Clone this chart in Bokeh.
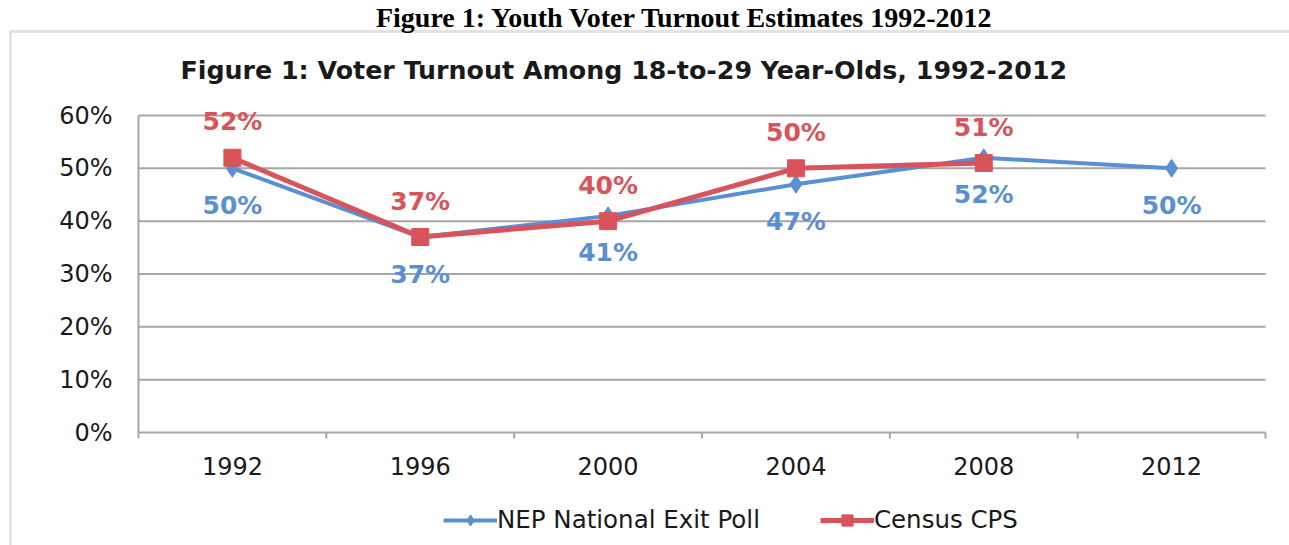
import math
from bokeh.plotting import figure
from bokeh.models import (ColumnDataSource, Label, Legend, LegendItem, PolyAnnotation, Range1d)
from bokeh.core.properties import value
from bokeh.embed import file_html
from bokeh.resources import INLINE

# ---- data ----
years = ["1992", "1996", "2000", "2004", "2008", "2012"]
nep = [50, 37, 41, 47, 52, 50]
cps_years = ["1992", "1996", "2000", "2004", "2008"]
cps = [52, 37, 40, 50, 51]
y_ticks = [0, 10, 20, 30, 40, 50, 60]
y_tick_labels = ["0%", "10%", "20%", "30%", "40%", "50%", "60%"]
heading = "Figure 1:  Youth Voter Turnout Estimates 1992-2012"
title = "Figure 1: Voter Turnout Among 18-to-29 Year-Olds, 1992-2012"
series_names = ["NEP National Exit Poll", "Census CPS"]

# ---- style / layout ----
BLUE = "#5b8fd4"
RED = "#d9535b"
FONT = "DejaVu Sans"
TXT = "#1a1a1a"
GRID = "#a6a6a6"
W, H = 1289, 545
PL, PR, PT, PB = 138, 1265, 115, 432  # plot area edges in pixels

n = len(years)
ymax = max(y_ticks)
ux = (PR - PL) / n
uy = (PB - PT) / ymax

p = figure(width=W, height=H, output_backend="svg", toolbar_location=None,
           x_axis_type=None, y_axis_type=None,
           x_range=Range1d(-PL / ux, n + (W - PR) / ux),
           y_range=Range1d(-(H - PB) / uy, ymax + PT / uy),
           min_border=0, min_border_left=0, min_border_right=0,
           min_border_top=0, min_border_bottom=0)
p.outline_line_color = None
p.background_fill_color = "white"
p.border_fill_color = "white"

pos = {c: i + 0.5 for i, c in enumerate(years)}

# gridlines and axes
p.segment(x0=0, x1=n, y0=y_ticks, y1=y_ticks, line_color=GRID, line_width=2)
p.segment(x0=[0], x1=[0], y0=[0], y1=[ymax], line_color=GRID, line_width=2)
p.ray(x=list(range(n + 1)), y=0, length=6, length_units="screen", angle=-math.pi / 2,
      line_color=GRID, line_width=2)
p.text(x=0, y=y_ticks, text=y_tick_labels, x_offset=-26, text_align="right",
       text_baseline="middle", text_font=value(FONT), text_font_size="24px", text_color=TXT)
p.text(x=[pos[c] for c in years], y=0, text=years, y_offset=33, text_align="center",
       text_baseline="middle", text_font=value(FONT), text_font_size="24px", text_color=TXT)

nep_src = ColumnDataSource(dict(x=[pos[c] for c in years], y=nep, lbl=[f"{v}%" for v in nep]))
cps_src = ColumnDataSource(dict(x=[pos[c] for c in cps_years], y=cps, lbl=[f"{v}%" for v in cps]))

l1 = p.line("x", "y", source=nep_src, line_width=4, color=BLUE)
s1 = p.scatter("x", "y", source=nep_src, marker="diamond", size=18, color=BLUE)
l2 = p.line("x", "y", source=cps_src, line_width=5, color=RED)
s2 = p.scatter("x", "y", source=cps_src, marker="square", size=17, color=RED)

p.text("x", "y", text="lbl", source=nep_src, y_offset=37, text_align="center",
       text_baseline="middle", text_color=BLUE, text_font=value(FONT),
       text_font_style="bold", text_font_size="25px")
p.text("x", "y", text="lbl", source=cps_src, y_offset=-36, text_align="center",
       text_baseline="middle", text_color=RED, text_font=value(FONT),
       text_font_style="bold", text_font_size="25px")

# outer box (left and top edges visible)
p.add_layout(PolyAnnotation(xs=[10, 10, 3000, 3000], ys=[-100, H - 31, H - 31, -100],
                            xs_units="screen", ys_units="screen",
                            fill_alpha=0, line_color="#a0a0a0", line_width=3))

p.add_layout(Label(x=180, y=H - 70, x_units="screen", y_units="screen", text=title,
                   text_font=FONT, text_font_style="bold", text_font_size="25.3px",
                   text_baseline="middle", text_color=TXT))
p.add_layout(Label(x=688, y=H - 1, x_units="screen", y_units="screen", text=heading,
                   text_font="Liberation Serif", text_font_style="bold", text_font_size="28px",
                   text_align="center", text_baseline="top", text_color="#000000"))

legend = Legend(items=[LegendItem(label=series_names[0], renderers=[l1, s1]),
                       LegendItem(label=series_names[1], renderers=[l2, s2])],
                location=(443, 11), orientation="horizontal",
                border_line_color=None, background_fill_alpha=0, padding=0, margin=0,
                spacing=60, glyph_width=54, glyph_height=28, label_height=28, label_standoff=0,
                label_text_font=FONT, label_text_font_size="24.5px", label_text_color=TXT)
p.add_layout(legend, "center")

open("out.html", "w").write(file_html(p, INLINE))
